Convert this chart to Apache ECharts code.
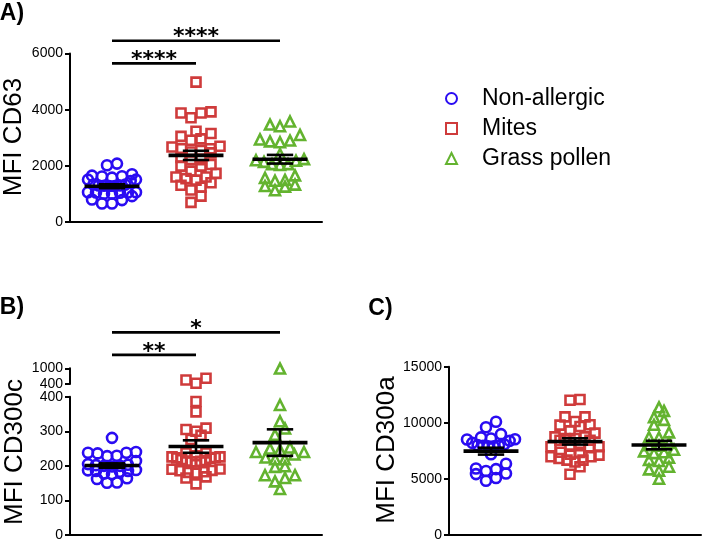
<!DOCTYPE html>
<html><head><meta charset="utf-8">
<script src="https://cdn.jsdelivr.net/npm/echarts@6/dist/echarts.min.js"></script>
<style>html,body{margin:0;padding:0;background:#fff}#c{width:703px;height:542px}</style>
</head><body><div id="c"></div>
<script>
// ---------------- data ----------------
const groups = ['Non-allergic', 'Mites', 'Grass pollen'];

const cd63NonAllergic = [2080,2020,1650,1620,1510,1460,1510,1580,1630,1700,1330,1300,1280,1290,1300,1280,1330,1010,1060,1040,1050,1050,1060,1010,920,780,660,660,800];
const cd63Mites = [4980,3880,3710,3880,3920,3150,2960,2910,3050,3230,2700,2610,2490,2460,2550,2610,2670,2220,2300,2220,1990,1990,2050,1810,1730,1600,1545,1600,1490,1400,1240,1310,1140,920,700];
const cd63Grass = [3470,3410,3580,3100,2900,2840,2870,2940,2240,2180,2420,2200,2140,2060,2030,2060,1660,1570,1470,1280,1130,1260,1330,1500];

const cd300cNonAllergic = [281,240,238,229,228,236,238,205,200,198,214,203,200,202,187,185,183,185,188,176,162,151,152,164,178];
const cd300cMites = [553,427,618,386,356,305,288,300,309,276,237,237,226,223,222,224,226,229,214,212,213,215,218,191,186,181,179,183,187,190,168,165,148,205];
const cd300cGrass = [990,376,329,308,290,250,240,233,240,246,253,224,219,219,197,199,173,173,165,155,133];

const cd300aNonAllergic = [10100,9600,8700,8530,8390,8210,8510,8600,8990,8080,7970,7900,7900,8010,7960,7200,6350,5700,5930,5430,5870,5480,4830,5080];
const cd300aMites = [12070,12010,10530,9830,9670,9790,10120,10530,9280,9080,8450,8750,8600,8600,8750,8450,7860,7860,7950,7860,7920,7380,7210,6970,6670,6500,6670,6820,6970,7120,7360,6080,5420];
const cd300aGrass = [11380,11060,10500,10260,9820,9150,8700,8720,7970,8010,7450,7300,7380,7600,6880,6700,6600,5850,6080,5730,5010,8200];

const ticksA = [0, 6000, 2000];
const ticksBLow = [0, 400, 100];
const ticksBHigh = [400, 1000, 600];
const ticksC = [0, 15000, 5000];

// significance annotations: [fromGroup, toGroup, level, label]
const sigA = [[0, 1, 5650, '****'], [0, 2, 6455, '****']];
const sigB = [[0, 1, 521, '**'], [0, 2, 586, '*']];

// ---------------- layout & style ----------------
const FONT = "'Liberation Sans', Arial, sans-serif";
const colors = ['#2a0cf2', '#cf3b3b', '#63b32f'];
const symbols = ['circle', 'rect', 'triangle'];
const symSizes = [10, 9, 10];
const ROW_H = 7.5;    // px: values closer than this share a row
const STEP = 10;      // px: horizontal spacing inside a row
const MAXW = 48;      // px: maximum row width
const grids = [
  {left: 70, top: 53.5, width: 252, height: 168.5},   // A
  {left: 70, top: 368.3, width: 252, height: 15.7},   // B upper
  {left: 70, top: 396.7, width: 252, height: 140},    // B lower
  {left: 449, top: 366.7, width: 252, height: 168.3}  // C
];
const ranges = [ticksA, ticksBHigh, ticksBLow, ticksC];
const BAND = 84;

// scatter-dot-plot layout: bin values into rows, spread each row horizontally
function spread(values, ppu) {
  const order = values.map((v, i) => i).sort((p, q) => values[p] - values[q]);
  const rows = [];
  let cur = [];
  order.forEach(i => {
    if (cur.length && (values[i] - values[cur[0]]) * ppu > ROW_H) { rows.push(cur); cur = []; }
    cur.push(i);
  });
  if (cur.length) rows.push(cur);
  const offs = new Array(values.length).fill(0);
  rows.forEach(r => {
    const n = r.length;
    const s = n > 1 ? Math.min(STEP, MAXW / (n - 1)) : 0;
    const pos = [];
    for (let k = 0; k < n; k++) pos.push((k - (n - 1) / 2) * s);
    pos.sort((p, q) => Math.abs(p) - Math.abs(q) || p - q);
    r.forEach((idx, j) => { offs[idx] = pos[j] / BAND; });
  });
  return offs;
}

function stats(vals) {
  const n = vals.length;
  const m = vals.reduce((s, v) => s + v, 0) / n;
  const sd = Math.sqrt(vals.reduce((s, v) => s + (v - m) * (v - m), 0) / (n - 1));
  return [m, sd / Math.sqrt(n)];
}

const series = [];
function addScatter(gridIdx, vals, g, name) {
  const r = ranges[gridIdx];
  const ppu = grids[gridIdx].height / (r[1] - r[0]);
  const offs = spread(vals, ppu);
  series.push({
    type: 'scatter', name: name, xAxisIndex: gridIdx, yAxisIndex: gridIdx,
    symbol: symbols[g], symbolSize: symSizes[g],
    itemStyle: {color: 'rgba(255,255,255,0)', borderColor: colors[g], borderWidth: 2.6, opacity: 1},
    emphasis: {disabled: true},
    data: vals.map((v, i) => [g + offs[i], v]),
    z: 2
  });
}
function addMean(gridIdx, sets) {
  series.push({
    type: 'custom', xAxisIndex: gridIdx, yAxisIndex: gridIdx, z: 5, silent: true,
    data: sets.map((s, g) => [g].concat(stats(s))),
    renderItem: function (params, api) {
      const g = api.value(0), m = api.value(1), s = api.value(2);
      const c = api.coord([g, m]), hi = api.coord([g, m + s]), lo = api.coord([g, m - s]);
      const half = api.size([0.327, 0])[0], cap = api.size([0.157, 0])[0];
      const st = {stroke: '#000', lineWidth: 2.6};
      return {type: 'group', children: [
        {type: 'line', shape: {x1: c[0] - half, y1: c[1], x2: c[0] + half, y2: c[1]}, style: {stroke: '#000', lineWidth: 3.6}},
        {type: 'line', shape: {x1: c[0], y1: hi[1], x2: c[0], y2: lo[1]}, style: st},
        {type: 'line', shape: {x1: c[0] - cap, y1: hi[1], x2: c[0] + cap, y2: hi[1]}, style: st},
        {type: 'line', shape: {x1: c[0] - cap, y1: lo[1], x2: c[0] + cap, y2: lo[1]}, style: st}
      ]};
    }
  });
}
function addSig(gridIdx, sig) {
  series.push({
    type: 'custom', xAxisIndex: gridIdx, yAxisIndex: gridIdx, z: 6, silent: true, clip: false,
    data: sig.map(s => [s[0], s[1], s[2]]),
    renderItem: function (params, api) {
      const p1 = api.coord([api.value(0), api.value(2)]);
      const p2 = api.coord([api.value(1), api.value(2)]);
      const lab = sig[params.dataIndex][3];
      return {type: 'group', children: [
        {type: 'line', shape: {x1: p1[0], y1: p1[1], x2: p2[0], y2: p2[1]}, style: {stroke: '#000', lineWidth: 2.6}},
        {type: 'text', x: (p1[0] + p2[0]) / 2, y: p1[1] + 8,
         style: {text: lab, font: "bold 22px 'DejaVu Sans'", fill: '#000', align: 'center', verticalAlign: 'bottom', textAlign: 'center', textVerticalAlign: 'bottom'}}
      ]};
    }
  });
}

// Panel A
[cd63NonAllergic, cd63Mites, cd63Grass].forEach((v, g) => addScatter(0, v, g, groups[g]));
addMean(0, [cd63NonAllergic, cd63Mites, cd63Grass]);
addSig(0, sigA);
// Panel B (broken axis)
[cd300cNonAllergic, cd300cMites, cd300cGrass].forEach((v, g) => {
  addScatter(2, v.filter(x => x <= 400), g, groups[g]);
  addScatter(1, v.filter(x => x > 400), g, groups[g]);
});
addMean(2, [cd300cNonAllergic, cd300cMites, cd300cGrass]);
addSig(2, sigB);
// Panel C
[cd300aNonAllergic, cd300aMites, cd300aGrass].forEach((v, g) => addScatter(3, v, g, groups[g]));
addMean(3, [cd300aNonAllergic, cd300aMites, cd300aGrass]);

const axisLine = {show: true, onZero: false, lineStyle: {color: '#000', width: 2}};
const xAxes = grids.map((g, i) => ({
  type: 'value', gridIndex: i, min: -0.5, max: 2.5, show: i !== 1,
  axisLine: axisLine, axisTick: {show: false}, axisLabel: {show: false}, splitLine: {show: false}
}));
const yAxes = grids.map((g, i) => ({
  type: 'value', gridIndex: i, min: ranges[i][0], max: ranges[i][1], interval: ranges[i][2],
  axisLine: axisLine, axisTick: {show: true, length: 5, lineStyle: {color: '#000', width: 2}},
  axisLabel: {color: '#000', fontSize: 14, fontFamily: FONT, margin: 7, formatter: v => String(v)},
  splitLine: {show: false}
}));

function txt(text, x, y, size, bold, rot) {
  return {type: 'text', x: x, y: y, rotation: rot || 0, silent: true,
    style: {text: text, font: (bold ? 'bold ' : '') + size + 'px ' + FONT, fill: '#000',
      align: 'center', verticalAlign: 'middle', textAlign: 'center', textVerticalAlign: 'middle'}};
}

const chart = echarts.init(document.getElementById('c'), null, {renderer: 'canvas'});
chart.setOption({
  animation: false,
  backgroundColor: '#fff',
  grid: grids.map(g => Object.assign({containLabel: false}, g)),
  xAxis: xAxes,
  yAxis: yAxes,
  legend: {
    data: groups, orient: 'vertical', left: 440, top: 82, itemWidth: 11, itemHeight: 11, itemGap: 7,
    textStyle: {fontSize: 23, fontFamily: FONT, color: '#000', padding: [0, 0, 0, 20]},
    selectedMode: false
  },
  graphic: [
    txt('A)', 12, 13.5, 23, true),
    txt('B)', 12, 307.5, 23, true),
    txt('C)', 380.5, 309, 23, true),
    txt('MFI CD63', 14, 137, 26, false, Math.PI / 2),
    txt('MFI CD300c', 15, 452, 26, false, Math.PI / 2),
    txt('MFI CD300a', 387, 450, 26, false, Math.PI / 2)
  ],
  series: series
});
</script></body></html>
